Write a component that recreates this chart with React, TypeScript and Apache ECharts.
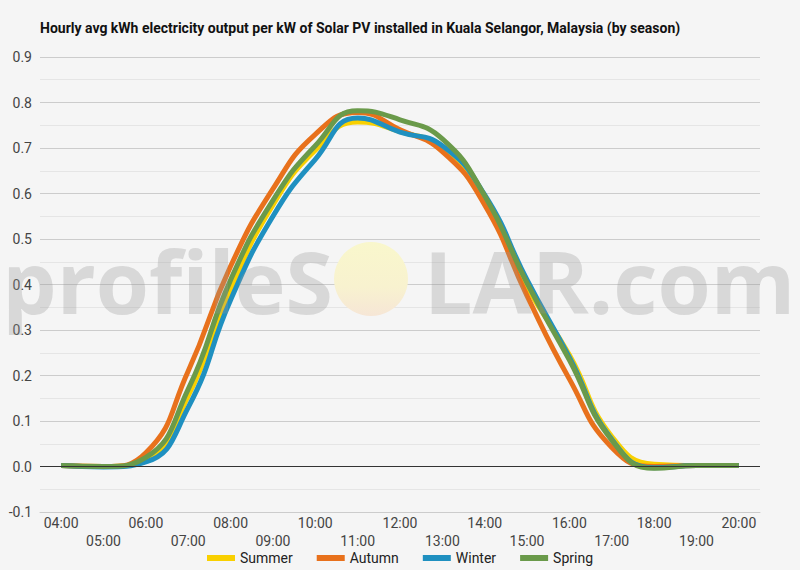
import { useEffect, useRef } from 'react'
import * as echarts from 'echarts'

const hours = [
  '04:00', '05:00', '06:00', '07:00', '08:00', '09:00', '10:00', '11:00', '12:00',
  '13:00', '14:00', '15:00', '16:00', '17:00', '18:00', '19:00', '20:00',
]

const summer = [0.002, 0.0, 0.015, 0.155, 0.39, 0.575, 0.695, 0.757, 0.736, 0.7, 0.586, 0.395, 0.245, 0.066, 0.005, 0.002, 0.002]
const autumn = [0.002, 0.0, 0.03, 0.21, 0.44, 0.61, 0.73, 0.778, 0.74, 0.692, 0.575, 0.375, 0.192, 0.042, 0.0, 0.002, 0.002]
const winter = [0.002, -0.001, 0.01, 0.13, 0.366, 0.55, 0.675, 0.766, 0.735, 0.705, 0.597, 0.41, 0.24, 0.06, -0.003, 0.002, 0.002]
const spring = [0.002, 0.0, 0.02, 0.17, 0.41, 0.585, 0.705, 0.782, 0.762, 0.72, 0.595, 0.403, 0.234, 0.058, -0.004, 0.002, 0.002]

const seasons = ['Summer', 'Autumn', 'Winter', 'Spring']
const seasonValues = [summer, autumn, winter, spring]
const seasonColors = ['#F9D000', '#E8711C', '#1F90C0', '#6A9A4A']

const title =
  'Hourly avg kWh electricity output per kW of Solar PV installed in Kuala Selangor, Malaysia (by season)'

export default function App() {
  const chartRef = useRef<HTMLDivElement>(null)

  useEffect(() => {
    if (!chartRef.current) return
    const chart = echarts.init(chartRef.current, undefined, { renderer: 'svg' })

    const series: any[] = seasons.map((name, i) => ({
      name,
      type: 'line',
      data: seasonValues[i],
      smooth: true,
      showSymbol: false,
      symbol: 'none',
      lineStyle: { width: 5, color: seasonColors[i] },
      itemStyle: { color: seasonColors[i] },
    }))

    // zero line
    series[0].markLine = {
      silent: true,
      symbol: 'none',
      label: { show: false },
      lineStyle: { color: '#333', width: 1, type: 'solid' },
      data: [{ yAxis: 0 }],
    }

    const option: echarts.EChartsOption = {
      animation: false,
      backgroundColor: '#f5f5f5',
      textStyle: { fontFamily: 'Roboto' },
      title: {
        text: title,
        left: 40,
        top: 21,
        padding: 0,
        textStyle: { fontFamily: 'Roboto', fontSize: 14, fontWeight: 'bold', color: '#111' },
      },
      legend: {
        bottom: 0,
        left: 'center',
        icon: 'rect',
        itemWidth: 28,
        itemHeight: 6,
        itemGap: 24,
        textStyle: { fontFamily: 'Roboto', fontSize: 14, color: '#222' },
        data: seasons,
      },
      grid: { left: 40, right: 40, top: 57, bottom: 58, containLabel: false },
      xAxis: {
        type: 'category',
        data: hours,
        boundaryGap: true,
        axisTick: { show: false },
        axisLine: { show: true, onZero: false, lineStyle: { color: '#ccc' } },
        splitLine: { show: false },
        axisLabel: {
          interval: 0,
          margin: 2,
          lineHeight: 18,
          fontSize: 14,
          color: '#444',
          fontFamily: 'Roboto',
          formatter: (v: string, i: number) => (i % 2 ? '\n' + v : v),
        },
      },
      yAxis: {
        type: 'value',
        min: -0.1,
        max: 0.9,
        interval: 0.1,
        axisLine: { show: false },
        axisTick: { show: false },
        axisLabel: {
          margin: 8,
          fontSize: 14,
          color: '#444',
          fontFamily: 'Roboto',
          formatter: (v: number) => v.toFixed(1),
        },
        splitLine: { lineStyle: { color: '#ccc' } },
        minorTick: { show: false, splitNumber: 2 },
        minorSplitLine: { show: true, lineStyle: { color: '#e5e5e5' } },
      },
      graphic: [
        {
          type: 'circle',
          silent: true,
          z: 100,
          shape: { cx: 371, cy: 279, r: 37 },
          style: {
            fill: new echarts.graphic.LinearGradient(0, 0, 0, 1, [
              { offset: 0, color: '#f9f7cc' },
              { offset: 0.6, color: '#f8f2cf' },
              { offset: 1, color: '#f6e6d6' },
            ]),
          },
        },
        {
          type: 'text',
          silent: true,
          z: 100,
          x: 333,
          y: 280,
          style: {
            text: 'profileS',
            fontFamily: 'Open Sans',
            fontWeight: 'bold',
            fontSize: 86,
            fill: 'rgba(150,150,150,0.3)',
            align: 'right',
            verticalAlign: 'middle',
          },
        },
        {
          type: 'text',
          silent: true,
          z: 100,
          x: 424,
          y: 280,
          style: {
            text: 'LAR.com',
            fontFamily: 'Open Sans',
            fontWeight: 'bold',
            fontSize: 86,
            fill: 'rgba(150,150,150,0.3)',
            align: 'left',
            verticalAlign: 'middle',
          },
        },
      ],
      series,
    }

    chart.setOption(option)

    return () => {
      chart.dispose()
    }
  }, [])

  return (
    <div
      ref={chartRef}
      style={{ position: 'fixed', left: 0, top: 0, width: '800px', height: '570px' }}
    />
  )
}
